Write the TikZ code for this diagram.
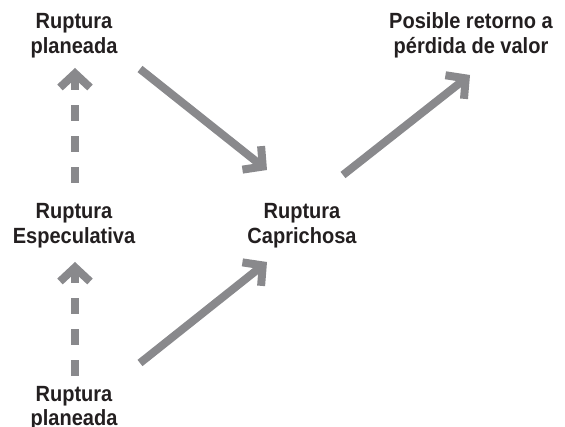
\documentclass[tikz,border=0pt]{standalone}
\usepackage{fontspec}
\setmainfont{Liberation Sans}[BoldFeatures={FakeStretch=0.91}]
\usetikzlibrary{arrows.meta}
\definecolor{arrowgray}{RGB}{137,137,140}
\definecolor{labeltext}{RGB}{35,31,32}
\begin{document}
\begin{tikzpicture}[x=1pt,y=-1pt,
  label/.style={align=center,anchor=base,inner sep=0pt,text=labeltext,
    font=\fontsize{22}{24.5}\selectfont\bfseries},
  flow/.style={draw=arrowgray,line width=8pt,line cap=butt,
    -{Straight Barb[length=14pt,width=30pt,line join=miter]}},
  flowdash/.style={flow,dash pattern=on 16pt off 15pt}]
  \useasboundingbox (0,0) rectangle (565,427);

  % labels (anchored on the baseline of their last line)
  \node[label] (plan1) at (74,53.5)   {Ruptura\\planeada};
  \node[label] (ret)   at (471,53.5)  {Posible retorno a\\pérdida de valor};
  \node[label] (espec) at (74,243.5)  {Ruptura\\Especulativa};
  \node[label] (capr)  at (302,243.5) {Ruptura\\Caprichosa};
  \node[label] (plan2) at (74,426)    {Ruptura\\planeada};

  % connector ends
  \coordinate (especTop) at (75,183);
  \coordinate (plan1Bot) at (75,68);
  \coordinate (plan2Top) at (75,376);
  \coordinate (especBot) at (75,262);
  \coordinate (plan1Out) at (140,69);
  \coordinate (caprIn1)  at (267,170);
  \coordinate (plan2Out) at (140,363);
  \coordinate (caprIn2)  at (267,262);
  \coordinate (caprOut)  at (343,175);
  \coordinate (retIn)    at (470,75);

  % connectors
  \draw[flowdash] (especTop) -- (plan1Bot);
  \draw[flowdash] (plan2Top) -- (especBot);
  \draw[flow] (plan1Out) -- (caprIn1);
  \draw[flow] (plan2Out) -- (caprIn2);
  \draw[flow] (caprOut) -- (retIn);
\end{tikzpicture}
\end{document}
